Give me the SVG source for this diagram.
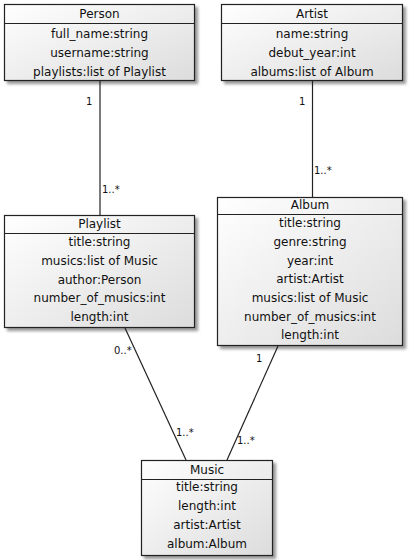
<svg xmlns="http://www.w3.org/2000/svg" width="413" height="560" viewBox="0 0 413 560">
<defs>
<linearGradient id="g" x1="0" y1="0" x2="1" y2="1">
<stop offset="0" stop-color="#ffffff"/>
<stop offset="1" stop-color="#dcdcdc"/>
</linearGradient>
<filter id="sh" x="-10%" y="-10%" width="130%" height="130%">
<feGaussianBlur in="SourceAlpha" stdDeviation="1.5"/>
<feOffset dx="3" dy="3" result="b"/>
<feComponentTransfer><feFuncA type="linear" slope="0.4"/></feComponentTransfer>
<feMerge><feMergeNode/><feMergeNode in="SourceGraphic"/></feMerge>
</filter>
</defs>
<style>
.box{fill:url(#g);stroke:#222;stroke-width:1.2}
.sep{stroke:#222;stroke-width:1.2}
text{font-family:"DejaVu Sans",sans-serif;font-size:12px;fill:#111;text-anchor:middle}
.lbl{font-size:10px;text-anchor:start}
.conn{stroke:#222;stroke-width:1.2;fill:none}
</style>
<rect width="413" height="560" fill="#fff"/>
<g id="Person">
<rect class="box" x="4.5" y="4.5" width="190" height="76" filter="url(#sh)"/>
<line class="sep" x1="4.5" y1="23.5" x2="194.5" y2="23.5"/>
<text x="99.5" y="18">Person</text>
<text x="99.5" y="38">full_name:string</text>
<text x="99.5" y="57">username:string</text>
<text x="99.5" y="76">playlists:list of Playlist</text>
</g>
<g id="Artist">
<rect class="box" x="221.5" y="4.5" width="181" height="76" filter="url(#sh)"/>
<line class="sep" x1="221.5" y1="23.5" x2="402.5" y2="23.5"/>
<text x="312" y="18">Artist</text>
<text x="312" y="38">name:string</text>
<text x="312" y="57">debut_year:int</text>
<text x="312" y="76">albums:list of Album</text>
</g>
<g id="Playlist">
<rect class="box" x="4.5" y="215.5" width="190" height="112" filter="url(#sh)"/>
<line class="sep" x1="4.5" y1="233.5" x2="194.5" y2="233.5"/>
<text x="99.5" y="228">Playlist</text>
<text x="99.5" y="246">title:string</text>
<text x="99.5" y="265">musics:list of Music</text>
<text x="99.5" y="284">author:Person</text>
<text x="99.5" y="302">number_of_musics:int</text>
<text x="99.5" y="321">length:int</text>
</g>
<g id="Album">
<rect class="box" x="217.5" y="197.5" width="185" height="148" filter="url(#sh)"/>
<line class="sep" x1="217.5" y1="214.5" x2="402.5" y2="214.5"/>
<text x="310" y="209">Album</text>
<text x="310" y="227">title:string</text>
<text x="310" y="246">genre:string</text>
<text x="310" y="265">year:int</text>
<text x="310" y="283">artist:Artist</text>
<text x="310" y="302">musics:list of Music</text>
<text x="310" y="321">number_of_musics:int</text>
<text x="310" y="339">length:int</text>
</g>
<g id="Music">
<rect class="box" x="141.5" y="460.5" width="131" height="95" filter="url(#sh)"/>
<line class="sep" x1="141.5" y1="479.5" x2="272.5" y2="479.5"/>
<text x="207" y="474">Music</text>
<text x="207" y="491">title:string</text>
<text x="207" y="510">length:int</text>
<text x="207" y="529">artist:Artist</text>
<text x="207" y="548">album:Album</text>
</g>
<g id="connectors">
<line class="conn" x1="100" y1="81" x2="100" y2="215"/>
<line class="conn" x1="312.5" y1="81" x2="312.5" y2="197"/>
<line class="conn" x1="125" y1="328" x2="186" y2="460"/>
<line class="conn" x1="278" y1="346" x2="227" y2="460"/>
<text class="lbl" x="86" y="105">1</text>
<text class="lbl" x="102" y="193">1..*</text>
<text class="lbl" x="299" y="105">1</text>
<text class="lbl" x="314" y="174">1..*</text>
<text class="lbl" x="114" y="354">0..*</text>
<text class="lbl" x="176" y="436">1..*</text>
<text class="lbl" x="256" y="362">1</text>
<text class="lbl" x="237" y="444">1..*</text>
</g>
</svg>
